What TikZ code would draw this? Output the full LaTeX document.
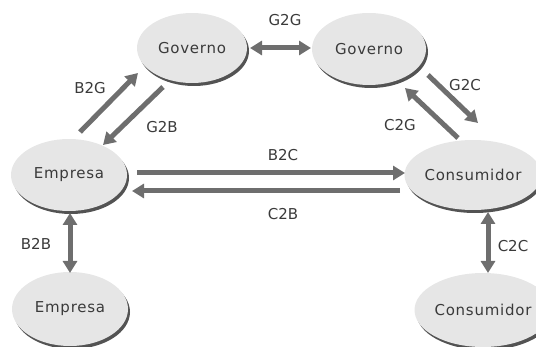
\documentclass[tikz,border=0pt]{standalone}
\usepackage{fontspec}
\setmainfont{DejaVu Sans}
\newfontfamily\nodefont[LetterSpace=5]{DejaVu Sans}
\usetikzlibrary{shapes.geometric,arrows.meta,shadows,calc}
\definecolor{ellfill}{HTML}{E6E6E6}
\definecolor{arrgray}{HTML}{6E6E6E}
\definecolor{txtgray}{HTML}{3A3A3A}
\begin{document}
\begin{tikzpicture}[x=1pt,y=-1pt,
  party/.style={ellipse, fill=ellfill, inner sep=0pt, text=txtgray,
    font=\nodefont\fontsize{15}{15}\selectfont,
    drop shadow={shadow xshift=2pt,shadow yshift=-3pt,fill=black!75,opacity=0.9}},
  tip/.tip={Triangle[length=12pt,width=14pt]},
  flow/.style={draw=arrgray, line width=5pt, -tip},
  both/.style={draw=arrgray, line width=5pt, tip-tip},
  lbl/.style={font=\fontsize{15}{15}\selectfont, text=txtgray, inner sep=0pt}]
\useasboundingbox (0,0) rectangle (536,347);
\node[party, minimum width=110pt, minimum height=70pt] (gov1) at (192,48) {Governo};
\node[party, minimum width=114pt, minimum height=72pt] (gov2) at (369,49) {Governo};
\node[party, minimum width=116pt, minimum height=72pt] (emp1) at (69,175) {Empresa};
\node[party, minimum width=122pt, minimum height=70pt] (cons1) at (473,175) {Consumidor};
\node[party, minimum width=116pt, minimum height=74pt] (emp2) at (70,309) {Empresa};
\node[party, minimum width=110pt, minimum height=74pt] (cons2) at (483,310) {Consumidor};

\draw[both] ($(gov1)+(58,0)$) -- ($(gov2)+(-58,-1)$);
\draw[flow] ($(emp1)+(11,-43)$) -- ($(gov1)+(-54,25)$);
\draw[flow] ($(gov1)+(-29,39)$) -- ($(emp1)+(34,-30)$);
\draw[flow] ($(gov2)+(59,26)$) -- ($(cons1)+(5,-52)$);
\draw[flow] ($(cons1)+(-15,-37)$) -- ($(gov2)+(36,39)$);
\draw[flow] ($(emp1)+(68,-2)$) -- ($(cons1)+(-68,-2)$);
\draw[flow] ($(cons1)+(-73,16)$) -- ($(emp1)+(63,16)$);
\draw[both] ($(emp1)+(1,38)$) -- ($(emp2)+(0,-36)$);
\draw[both] ($(cons1)+(15,37)$) -- ($(cons2)+(5,-37)$);

\node[lbl] (lg2g) at (285,20) {G2G};
\node[lbl] (lb2g) at (90,88) {B2G};
\node[lbl] (lg2b) at (162,127) {G2B};
\node[lbl] (lg2c) at (465,85) {G2C};
\node[lbl] (lc2g) at (400,125) {C2G};
\node[lbl] (lb2c) at (283,155) {B2C};
\node[lbl] (lc2b) at (283,214) {C2B};
\node[lbl] (lb2b) at (36,244) {B2B};
\node[lbl] (lc2c) at (513,246) {C2C};
\end{tikzpicture}
\end{document}
